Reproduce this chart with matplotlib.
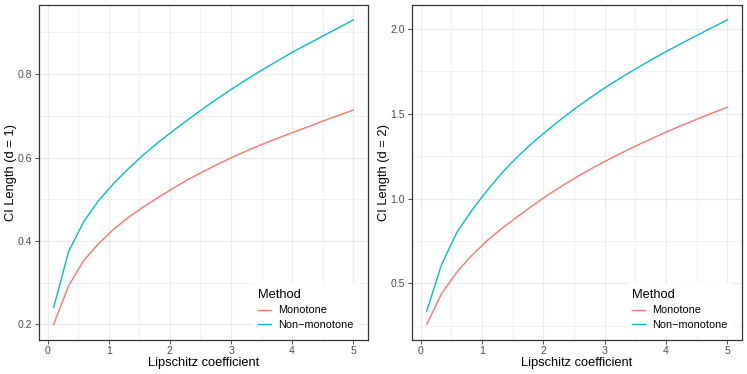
import numpy as np
import matplotlib
matplotlib.use("Agg")
import matplotlib.pyplot as plt
from matplotlib.ticker import MultipleLocator

plt.rcParams['font.family'] = ['Liberation Sans', 'DejaVu Sans']

# Lipschitz coefficient grid
lipschitz = [0.1, 0.345, 0.59, 0.835, 1.08, 1.325, 1.57, 1.815, 2.06, 2.305, 2.55,
             2.795, 3.04, 3.285, 3.53, 3.775, 4.02, 4.265, 4.51, 4.755, 5.0]

# d = 1
mono_d1 = [0.200, 0.293, 0.353, 0.394, 0.428, 0.457, 0.482, 0.505, 0.527, 0.548, 0.567,
           0.585, 0.602, 0.618, 0.633, 0.647, 0.661, 0.674, 0.688, 0.701, 0.714]
nonmono_d1 = [0.241, 0.375, 0.446, 0.497, 0.538, 0.574, 0.607, 0.637, 0.665, 0.692, 0.718,
              0.743, 0.767, 0.790, 0.812, 0.833, 0.854, 0.873, 0.892, 0.911, 0.930]

# d = 2
mono_d2 = [0.258, 0.441, 0.566, 0.665, 0.750, 0.824, 0.891, 0.955, 1.017, 1.074, 1.128,
           1.178, 1.225, 1.270, 1.313, 1.354, 1.394, 1.432, 1.468, 1.503, 1.538]
nonmono_d2 = [0.337, 0.614, 0.800, 0.930, 1.045, 1.150, 1.243, 1.325, 1.400, 1.471, 1.538,
              1.601, 1.660, 1.716, 1.769, 1.820, 1.869, 1.916, 1.962, 2.007, 2.052]

methods = ["Monotone", "Non\u2212monotone"]
colors = ["#F8766D", "#00BFC4"]
ylabels = ["CI Length (d = 1)", "CI Length (d = 2)"]
x_ticks = [0, 1, 2, 3, 4, 5]
y_ticks_list = [[0.2, 0.4, 0.6, 0.8], [0.5, 1.0, 1.5, 2.0]]
y_minor_list = [0.1, 0.25]

panels = [(mono_d1, nonmono_d1), (mono_d2, nonmono_d2)]

W, H = 747, 374
fig = plt.figure(figsize=(W / 100, H / 100), dpi=100)
rects = [(38.7, 4.7, 368.3, 339.7), (411.7, 4.7, 742.3, 339.7)]

grid_col = "#EBEBEB"
for i, (series, rect) in enumerate(zip(panels, rects)):
    x0, y0, x1, y1 = rect
    ax = fig.add_axes([x0 / W, 1 - y1 / H, (x1 - x0) / W, (y1 - y0) / H])
    allv = np.concatenate([series[0], series[1]])
    lo, hi = allv.min(), allv.max()
    pad = (hi - lo) * 0.05
    ax.set_ylim(lo - pad, hi + pad)
    xr = max(lipschitz) - min(lipschitz)
    ax.set_xlim(min(lipschitz) - 0.05 * xr, max(lipschitz) + 0.05 * xr)

    ax.set_xticks(x_ticks)
    ax.set_xticklabels([str(t) for t in x_ticks])
    ax.xaxis.set_minor_locator(MultipleLocator(0.5))
    ax.set_yticks(y_ticks_list[i])
    ax.set_yticklabels(["{:.1f}".format(t) for t in y_ticks_list[i]])
    ax.yaxis.set_minor_locator(MultipleLocator(y_minor_list[i]))

    ax.grid(which="major", color=grid_col, lw=0.9, zorder=0)
    ax.grid(which="minor", color=grid_col, lw=0.5, zorder=0)
    ax.set_axisbelow(True)

    for s, name, c in zip(series, methods, colors):
        ax.plot(lipschitz, s, color=c, lw=1.0, label=name, zorder=3)

    for sp in ax.spines.values():
        sp.set_color("#333333")
        sp.set_linewidth(0.9)
    ax.tick_params(which="major", length=3, width=0.6, color="#333333",
                   labelsize=7.6, labelcolor="#4D4D4D", pad=1.8)
    ax.tick_params(which="minor", length=0)

    ax.set_xlabel("Lipschitz coefficient", fontsize=9.3, labelpad=0.8)
    ax.set_ylabel(ylabels[i], fontsize=9.3, labelpad=0.3)

    leg = ax.legend(title="Method", loc="lower right",
                    bbox_to_anchor=(0.972, 0.012), frameon=True,
                    fontsize=7.8, title_fontsize=9.3, handlelength=1.15,
                    handletextpad=0.68, borderaxespad=0.0, borderpad=0.5,
                    labelspacing=0.45, fancybox=False)
    leg.get_frame().set_facecolor("white")
    leg.get_frame().set_edgecolor("none")
    leg.get_frame().set_alpha(1)
    leg._legend_box.align = "left"
    leg.set_zorder(5)

fig.savefig("out.png", dpi=100)
